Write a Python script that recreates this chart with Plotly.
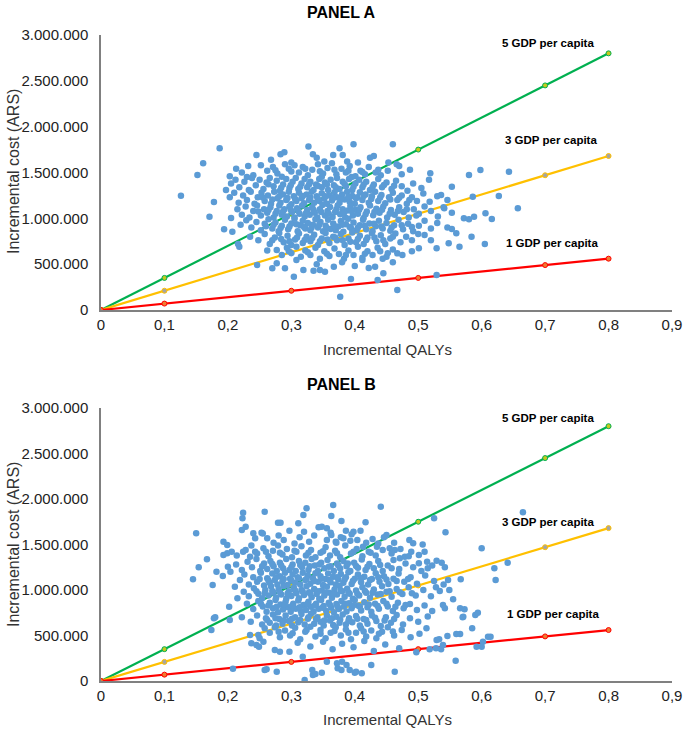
import plotly.graph_objects as go
from plotly.subplots import make_subplots

# ---------------- data ----------------
# threshold lines (QALYs vs. incremental cost in ARS), GDP per capita = 700.000 ARS
line_x = [0, 0.1, 0.3, 0.5, 0.7, 0.8]
gdp1_y = [0, 70000, 210000, 350000, 490000, 560000]
gdp3_y = [0, 210000, 630000, 1050000, 1470000, 1680000]
gdp5_y = [0, 350000, 1050000, 1750000, 2450000, 2800000]
line_labels = ["5 GDP per capita", "3 GDP per capita", "1 GDP per capita"]

x_ticks = [0, 0.1, 0.2, 0.3, 0.4, 0.5, 0.6, 0.7, 0.8, 0.9]
y_ticks = [0, 500000, 1000000, 1500000, 2000000, 2500000, 3000000]

# Monte-Carlo simulations: (incremental QALYs, incremental cost in thousand ARS)
panel_a_points = [
    (0.187,1764),(0.398,1807),(0.460,1807),(0.376,1764),(0.327,1785),(0.245,1690),(0.268,1640),(0.283,1700),
    (0.289,1720),(0.300,1610),(0.334,1700),(0.340,1660),(0.352,1620),(0.366,1690),(0.381,1690),(0.388,1620),
    (0.405,1610),(0.424,1660),(0.430,1680),(0.453,1610),(0.161,1600),(0.152,1473),(0.126,1247),(0.178,1178),
    (0.171,1018),(0.194,880),(0.643,1509),(0.598,1527),(0.580,1473),(0.627,1244),(0.586,1236),(0.657,1109),
    (0.616,993),(0.605,720),(0.606,1055),(0.588,1018),(0.572,1000),(0.584,800),(0.560,836),(0.565,691),
    (0.548,727),(0.553,884),(0.546,1200),(0.553,1345),(0.536,1254),(0.519,1491),(0.529,673),(0.510,818),
    (0.501,673),(0.529,382),(0.467,218),(0.436,327),(0.377,145),(0.394,338),(0.246,491),(0.218,691),
    (0.270,455),(0.304,364),(0.335,429),(0.353,418),(0.367,473),(0.467,618),(0.450,582),(0.432,473),
    (0.422,458),(0.412,545),(0.277,509),(0.290,455),(0.308,545),(0.319,436),(0.345,436),(0.380,520),
    (0.400,480),(0.445,400),(0.460,520),(0.340,500),(0.277,655),
    # 1450-1600
    (0.203,1460),(0.213,1540),(0.222,1500),(0.232,1570),(0.240,1470),(0.252,1580),(0.262,1520),(0.271,1560),
    (0.278,1490),(0.290,1590),(0.296,1540),(0.305,1580),(0.312,1500),(0.318,1560),(0.326,1470),(0.333,1530),
    (0.342,1590),(0.350,1490),(0.357,1550),(0.364,1600),(0.371,1480),(0.379,1540),(0.386,1500),(0.392,1570),
    (0.401,1460),(0.409,1520),(0.416,1480),(0.422,1560),(0.433,1500),(0.441,1470),(0.452,1520),(0.466,1590),
    (0.470,1570),(0.474,1480),(0.487,1530),(0.230,1450),(0.285,1455),(0.348,1455),(0.395,1450),
    (0.275,1525),(0.300,1510),(0.322,1540),(0.345,1515),(0.368,1530),(0.390,1520),(0.412,1505),(0.437,1530),
    # 1300-1450
    (0.197,1309),(0.205,1380),(0.212,1420),(0.218,1340),(0.226,1400),(0.233,1310),(0.238,1440),(0.244,1360),
    (0.250,1420),(0.256,1320),(0.261,1390),(0.266,1440),(0.272,1350),(0.277,1410),(0.282,1300),(0.287,1370),
    (0.292,1430),(0.297,1330),(0.302,1400),(0.307,1440),(0.311,1320),(0.316,1380),(0.321,1430),(0.325,1340),
    (0.330,1400),(0.335,1310),(0.339,1370),(0.344,1430),(0.348,1340),(0.353,1390),(0.358,1310),(0.362,1420),
    (0.367,1360),(0.372,1440),(0.376,1320),(0.381,1400),(0.386,1350),(0.391,1430),(0.396,1310),(0.401,1380),
    (0.407,1420),(0.412,1340),(0.418,1400),(0.424,1310),(0.430,1370),(0.437,1430),(0.443,1340),(0.450,1390),
    (0.458,1320),(0.465,1410),(0.474,1350),(0.483,1300),(0.492,1380),(0.505,1330),(0.517,1420),
    (0.264,1372),(0.284,1335),(0.299,1362),(0.314,1345),(0.328,1372),(0.342,1352),(0.356,1368),(0.370,1338),
    (0.384,1375),(0.398,1345),(0.414,1368),(0.428,1342),(0.446,1365),(0.462,1355),
    # 1150-1300
    (0.203,1230),(0.210,1280),(0.217,1170),(0.224,1250),(0.230,1200),(0.236,1290),(0.242,1160),(0.247,1230),
    (0.253,1280),(0.258,1190),(0.263,1250),(0.268,1160),(0.273,1290),(0.278,1220),(0.283,1170),(0.287,1260),
    (0.292,1200),(0.296,1290),(0.300,1155),(0.304,1240),(0.308,1190),(0.312,1280),(0.316,1220),(0.320,1165),
    (0.324,1260),(0.328,1200),(0.332,1290),(0.336,1170),(0.340,1240),(0.344,1190),(0.348,1275),(0.352,1215),
    (0.356,1160),(0.360,1250),(0.364,1195),(0.368,1285),(0.372,1230),(0.376,1170),(0.380,1260),(0.384,1205),
    (0.388,1290),(0.392,1180),(0.396,1245),(0.400,1160),(0.404,1230),(0.408,1285),(0.412,1200),(0.417,1260),
    (0.422,1170),(0.427,1240),(0.432,1290),(0.437,1190),(0.442,1255),(0.448,1165),(0.454,1230),(0.460,1280),
    (0.467,1200),(0.474,1250),(0.482,1160),(0.490,1230),(0.498,1190),(0.508,1270),(0.518,1180),(0.530,1240),
    (0.255,1228),(0.270,1205),(0.281,1240),(0.294,1222),(0.306,1210),(0.318,1245),(0.330,1228),(0.342,1212),
    (0.354,1240),(0.366,1222),(0.378,1208),(0.390,1235),(0.402,1218),(0.414,1245),(0.426,1210),(0.440,1228),
    (0.456,1205),(0.470,1225),(0.486,1200),
    # 1000-1150
    (0.205,1003),(0.215,1100),(0.222,1040),(0.228,1130),(0.234,1010),(0.240,1080),(0.246,1140),(0.252,1030),
    (0.257,1100),(0.262,1060),(0.267,1120),(0.272,1010),(0.277,1080),(0.281,1140),(0.285,1040),(0.289,1100),
    (0.293,1020),(0.297,1130),(0.301,1070),(0.305,1010),(0.309,1110),(0.313,1050),(0.317,1140),(0.321,1020),
    (0.325,1090),(0.329,1040),(0.333,1120),(0.337,1060),(0.341,1010),(0.345,1100),(0.349,1145),(0.353,1030),
    (0.357,1080),(0.361,1125),(0.365,1015),(0.369,1070),(0.373,1140),(0.377,1045),(0.381,1100),(0.385,1010),
    (0.389,1085),(0.393,1135),(0.397,1030),(0.401,1095),(0.405,1050),(0.409,1120),(0.414,1005),(0.419,1075),
    (0.424,1140),(0.429,1035),(0.434,1105),(0.439,1060),(0.445,1130),(0.451,1010),(0.457,1090),(0.463,1040),
    (0.470,1120),(0.477,1070),(0.485,1010),(0.493,1100),(0.501,1050),(0.510,1130),(0.520,1080),(0.531,1020),
    (0.541,1110),(0.553,1060),(0.540,1120),
    (0.248,1075),(0.264,1090),(0.275,1050),(0.287,1075),(0.299,1095),(0.311,1080),(0.323,1055),(0.335,1090),
    (0.347,1070),(0.359,1050),(0.371,1100),(0.383,1060),(0.395,1080),(0.407,1095),(0.417,1045),(0.431,1070),
    (0.443,1095),(0.455,1050),(0.468,1080),(0.482,1100),(0.497,1030),
    # 850-1000
    (0.207,854),(0.220,930),(0.229,980),(0.237,900),(0.245,960),(0.252,870),(0.258,940),(0.264,990),
    (0.270,890),(0.275,955),(0.280,860),(0.285,920),(0.290,985),(0.295,880),(0.300,945),(0.305,995),
    (0.310,860),(0.314,925),(0.318,975),(0.322,890),(0.326,950),(0.330,870),(0.334,930),(0.338,990),
    (0.342,900),(0.346,960),(0.350,860),(0.354,920),(0.358,985),(0.362,885),(0.366,945),(0.370,870),
    (0.374,910),(0.378,970),(0.382,855),(0.386,935),(0.390,995),(0.394,895),(0.398,955),(0.403,870),
    (0.408,925),(0.413,985),(0.418,880),(0.423,945),(0.428,860),(0.433,915),(0.438,975),(0.444,890),
    (0.450,950),(0.456,865),(0.462,925),(0.469,985),(0.476,880),(0.484,940),(0.492,860),(0.501,920),
    (0.510,975),(0.520,890),(0.530,950),(0.546,900),(0.580,990),
    (0.260,915),(0.272,930),(0.283,895),(0.297,910),(0.308,935),(0.320,905),(0.332,900),(0.344,930),
    (0.356,895),(0.368,915),(0.380,930),(0.392,905),(0.405,900),(0.416,920),(0.430,940),(0.442,910),
    (0.458,900),(0.474,925),(0.490,905),
    # 700-850
    (0.216,720),(0.235,800),(0.248,760),(0.258,830),(0.266,720),(0.274,790),(0.281,840),(0.288,740),
    (0.294,810),(0.300,710),(0.306,770),(0.312,835),(0.318,730),(0.324,800),(0.330,750),(0.336,820),
    (0.342,710),(0.348,780),(0.354,840),(0.360,730),(0.366,800),(0.372,760),(0.378,830),(0.384,710),
    (0.390,780),(0.396,845),(0.402,740),(0.408,810),(0.414,720),(0.420,790),(0.427,840),(0.434,750),
    (0.441,815),(0.448,720),(0.456,780),(0.464,835),(0.472,740),(0.481,800),(0.490,760),(0.500,830),
    (0.520,760),
    (0.270,760),(0.284,775),(0.297,750),(0.309,790),(0.321,765),(0.333,785),(0.345,750),(0.357,770),
    (0.369,790),(0.381,760),(0.393,745),(0.405,775),(0.418,765),(0.431,790),(0.445,760),(0.460,800),
    # 550-700
    (0.262,650),(0.285,600),(0.293,680),(0.300,620),(0.308,690),(0.315,580),(0.322,650),(0.330,600),
    (0.338,680),(0.345,560),(0.352,640),(0.360,590),(0.368,670),(0.375,610),(0.383,560),(0.390,650),
    (0.398,600),(0.405,690),(0.412,570),(0.420,640),(0.428,600),(0.436,680),(0.444,560),(0.452,620),
    (0.460,660),(0.475,600),(0.490,640),
    (0.296,640),(0.326,630),(0.356,615),(0.386,600),(0.416,615),(0.440,640),
]

panel_b_points = [
    # sparse outer simulations
    (0.150,1623),(0.154,1250),(0.145,1118),(0.167,1337),(0.176,1055),(0.180,700),(0.224,1850),(0.223,1788),
    (0.258,1861),(0.222,1660),(0.228,1696),(0.193,1531),(0.199,1495),(0.199,1403),(0.193,1385),(0.206,1421),
    (0.182,1201),(0.192,1154),(0.204,1201),(0.200,1256),(0.219,1110),(0.240,1623),(0.243,1568),(0.253,1630),
    (0.224,1421),(0.235,1366),(0.243,1421),(0.279,1740),(0.311,1733),(0.324,1898),(0.319,1824),(0.348,1696),
    (0.356,1678),(0.366,1934),(0.363,1813),(0.283,1740),(0.441,1916),(0.379,1758),(0.417,1744),(0.665,1854),
    (0.525,1788),(0.543,1634),(0.398,1641),(0.395,1612),(0.450,1605),(0.382,1568),(0.370,1531),(0.363,1605),
    (0.404,1550),(0.413,1476),(0.435,1476),(0.455,1458),(0.463,1440),(0.492,1513),(0.489,1421),(0.501,1385),
    (0.479,1366),(0.471,1348),(0.600,1458),(0.641,1300),(0.620,1238),(0.622,1110),(0.501,1293),(0.514,1311),
    (0.529,1322),(0.537,1300),(0.515,1238),(0.542,1250),(0.567,1118),(0.547,1110),(0.549,1000),(0.528,1030),
    (0.555,898),(0.539,835),(0.542,799),(0.566,799),(0.573,788),(0.571,707),(0.590,725),(0.585,579),
    (0.594,751),(0.570,700),(0.614,487),(0.566,517),(0.546,495),(0.533,458),
    # 1500-1700
    (0.255,1620),(0.262,1570),(0.272,1520),(0.280,1600),(0.288,1550),(0.297,1650),(0.305,1510),(0.313,1580),
    (0.320,1640),(0.328,1530),(0.336,1600),(0.343,1690),(0.356,1550),(0.362,1630),(0.371,1520),(0.378,1580),
    (0.386,1650),(0.393,1540),(0.409,1650),(0.418,1520),(0.428,1560),(0.437,1510),(0.446,1580),(0.462,1520),
    (0.486,1550),(0.507,1500),
    # 1350-1500
    (0.214,1380),(0.228,1440),(0.237,1490),(0.246,1400),(0.256,1460),(0.264,1370),(0.271,1430),(0.279,1490),
    (0.286,1390),(0.293,1450),(0.301,1360),(0.308,1420),(0.316,1480),(0.323,1380),(0.331,1440),(0.338,1360),
    (0.346,1410),(0.354,1470),(0.361,1380),(0.369,1430),(0.377,1360),(0.385,1490),(0.394,1400),(0.403,1450),
    (0.412,1370),(0.422,1420),(0.433,1380),(0.444,1440),(0.458,1400),(0.472,1450),(0.485,1370),(0.510,1420),
    (0.260,1420),(0.282,1410),(0.305,1430),(0.327,1410),(0.350,1425),(0.372,1405),(0.398,1420),(0.425,1410),
    # 1200-1350
    (0.213,1280),(0.222,1220),(0.231,1310),(0.238,1250),(0.245,1340),(0.251,1210),(0.257,1290),(0.262,1230),
    (0.267,1320),(0.272,1260),(0.277,1210),(0.282,1300),(0.287,1240),(0.292,1340),(0.297,1220),(0.302,1280),
    (0.307,1210),(0.312,1320),(0.317,1250),(0.322,1300),(0.327,1220),(0.332,1340),(0.337,1270),(0.342,1210),
    (0.347,1300),(0.352,1240),(0.357,1330),(0.362,1260),(0.367,1210),(0.372,1290),(0.377,1235),(0.382,1320),
    (0.387,1260),(0.393,1210),(0.399,1300),(0.405,1245),(0.411,1335),(0.417,1220),(0.423,1285),(0.430,1240),
    (0.437,1320),(0.444,1210),(0.452,1270),(0.461,1330),(0.470,1230),(0.480,1290),(0.492,1250),(0.505,1210),
    (0.522,1270),
    (0.254,1260),(0.270,1285),(0.284,1270),(0.300,1250),(0.314,1275),(0.329,1260),(0.344,1280),(0.359,1255),
    (0.374,1270),(0.389,1290),(0.402,1265),(0.420,1255),(0.440,1275),(0.458,1240),
    # 1050-1200
    (0.226,1170),(0.233,1060),(0.240,1140),(0.246,1090),(0.252,1190),(0.257,1050),(0.262,1130),(0.266,1080),
    (0.270,1180),(0.274,1110),(0.278,1060),(0.282,1150),(0.286,1095),(0.290,1190),(0.294,1055),(0.298,1125),
    (0.302,1170),(0.306,1080),(0.310,1140),(0.314,1060),(0.318,1190),(0.322,1110),(0.326,1160),(0.330,1070),
    (0.334,1130),(0.338,1185),(0.342,1090),(0.346,1150),(0.350,1055),(0.354,1120),(0.358,1180),(0.362,1085),
    (0.366,1145),(0.370,1060),(0.374,1115),(0.378,1175),(0.382,1080),(0.386,1140),(0.390,1195),(0.395,1065),
    (0.400,1125),(0.405,1170),(0.410,1085),(0.415,1145),(0.421,1060),(0.427,1120),(0.433,1185),(0.439,1090),
    (0.446,1150),(0.453,1065),(0.461,1125),(0.469,1180),(0.478,1090),(0.488,1140),(0.498,1070),(0.511,1160),
    (0.525,1100),(0.540,1060),
    (0.250,1120),(0.264,1105),(0.276,1140),(0.288,1120),(0.300,1105),(0.312,1130),(0.324,1120),(0.336,1100),
    (0.348,1125),(0.360,1110),(0.372,1140),(0.384,1115),(0.397,1100),(0.410,1130),(0.424,1110),(0.437,1140),
    (0.450,1115),(0.466,1100),(0.484,1120),
    # 900-1050
    (0.211,1036),(0.215,909),(0.225,980),(0.233,930),(0.241,1020),(0.248,960),(0.254,910),(0.259,1000),
    (0.264,940),(0.268,1040),(0.272,970),(0.276,915),(0.280,1010),(0.284,950),(0.288,1045),(0.292,905),
    (0.296,985),(0.300,935),(0.304,1025),(0.308,965),(0.312,910),(0.316,1000),(0.320,945),(0.324,1040),
    (0.328,975),(0.332,920),(0.336,1010),(0.340,955),(0.344,905),(0.348,995),(0.352,940),(0.356,1035),
    (0.360,970),(0.364,915),(0.368,1005),(0.372,950),(0.376,1045),(0.380,985),(0.384,925),(0.388,1015),
    (0.392,960),(0.397,905),(0.402,995),(0.407,940),(0.412,1030),(0.418,970),(0.424,915),(0.430,1005),
    (0.436,950),(0.443,1040),(0.450,980),(0.458,925),(0.466,1010),(0.475,955),(0.485,1030),(0.496,940),
    (0.508,1000),(0.520,930),(0.534,990),
    (0.245,985),(0.258,965),(0.270,990),(0.282,975),(0.294,960),(0.306,995),(0.318,980),(0.330,960),
    (0.342,985),(0.354,970),(0.366,955),(0.378,995),(0.390,975),(0.404,960),(0.416,990),(0.428,970),
    (0.441,955),(0.455,985),(0.471,975),(0.490,965),
    # 750-900
    (0.202,817),(0.230,850),(0.240,790),(0.248,880),(0.255,820),(0.261,760),(0.266,860),(0.271,800),
    (0.275,890),(0.279,755),(0.283,840),(0.287,785),(0.291,870),(0.295,810),(0.299,760),(0.303,850),
    (0.307,795),(0.311,885),(0.315,770),(0.319,835),(0.323,780),(0.327,870),(0.331,815),(0.335,760),
    (0.339,850),(0.343,795),(0.347,890),(0.351,825),(0.355,770),(0.359,860),(0.363,805),(0.367,755),
    (0.371,845),(0.375,790),(0.379,880),(0.383,820),(0.387,765),(0.391,855),(0.395,800),(0.400,890),
    (0.405,830),(0.410,775),(0.415,865),(0.420,810),(0.426,760),(0.432,850),(0.438,795),(0.445,880),
    (0.452,820),(0.460,770),(0.468,860),(0.477,800),(0.487,845),(0.498,780),(0.510,830),(0.522,770),
    (0.252,850),(0.264,830),(0.277,815),(0.289,840),(0.301,825),(0.313,810),(0.325,845),(0.337,830),
    (0.349,805),(0.361,835),(0.373,820),(0.385,850),(0.397,830),(0.408,815),(0.422,840),(0.436,825),
    (0.450,850),(0.464,815),(0.480,835),
    # 600-750
    (0.178,689),(0.203,670),(0.222,700),(0.236,650),(0.246,720),(0.254,620),(0.260,690),(0.266,640),
    (0.271,730),(0.276,610),(0.281,680),(0.286,630),(0.291,720),(0.296,660),(0.301,610),(0.306,700),
    (0.311,645),(0.316,735),(0.321,620),(0.326,685),(0.331,740),(0.336,630),(0.341,700),(0.346,650),
    (0.351,610),(0.356,720),(0.361,665),(0.366,615),(0.371,705),(0.376,640),(0.381,730),(0.386,620),
    (0.391,690),(0.396,645),(0.402,715),(0.408,610),(0.414,680),(0.420,630),(0.427,720),(0.434,660),
    (0.441,605),(0.449,700),(0.457,640),(0.466,725),(0.476,620),(0.487,690),(0.500,650),(0.515,710),
    (0.262,670),(0.275,690),(0.288,665),(0.301,685),(0.314,670),(0.327,700),(0.339,680),(0.352,665),
    (0.364,690),(0.377,675),(0.390,660),(0.404,685),(0.418,670),(0.432,695),(0.447,665),(0.462,680),
    # 450-600
    (0.174,560),(0.235,506),(0.248,506),(0.250,469),(0.258,580),(0.266,530),(0.274,590),(0.282,480),
    (0.290,555),(0.298,500),(0.306,585),(0.314,460),(0.322,540),(0.330,595),(0.338,490),(0.346,560),
    (0.354,470),(0.362,530),(0.370,590),(0.378,500),(0.386,565),(0.394,460),(0.402,530),(0.410,580),
    (0.418,490),(0.426,555),(0.434,470),(0.443,540),(0.452,590),(0.462,500),(0.474,560),(0.488,480),
    (0.502,520),(0.513,579),(0.560,517),(0.610,487),
    (0.280,540),(0.302,525),(0.324,560),(0.346,520),(0.368,550),(0.390,530),(0.414,545),(0.438,520),
    (0.460,545),
    # 300-450
    (0.237,414),(0.245,396),(0.249,377),(0.256,432),(0.274,341),(0.282,322),(0.297,322),(0.310,420),
    (0.330,380),(0.350,430),(0.365,350),(0.380,410),(0.398,370),(0.415,440),(0.430,330),(0.448,400),
    (0.470,360),(0.497,315),(0.518,348),(0.528,359),(0.536,348),(0.539,396),(0.529,451),(0.602,432),
    (0.592,377),(0.600,377),
    # below 300
    (0.208,135),(0.258,121),(0.261,128),(0.277,102),(0.318,267),(0.321,11),(0.334,66),(0.338,77),
    (0.348,91),(0.333,121),(0.356,212),(0.373,139),(0.380,212),(0.372,195),(0.379,121),(0.387,176),
    (0.392,121),(0.400,91),(0.402,102),(0.411,85),(0.426,176),(0.463,102),(0.559,223),
]

# ---------------- figure ----------------
a_x = [p[0] for p in panel_a_points]
a_y = [p[1] * 1000 for p in panel_a_points]
b_x = [p[0] for p in panel_b_points]
b_y = [p[1] * 1000 for p in panel_b_points]

W, H = 685, 731
L, R = 101, 13
PW = W - L - R

fig = make_subplots(rows=2, cols=1)

line_styles = [
    (gdp5_y, "#00B050", "#C8C81E"),
    (gdp3_y, "#FFC000", "#A5A5A5"),
    (gdp1_y, "#FF0000", "#ED7D31"),
]

for row, (sx, sy) in [(1, (a_x, a_y)), (2, (b_x, b_y))]:
    for ys, lc, mc in line_styles:
        fig.add_trace(go.Scatter(
            x=line_x, y=ys, mode="lines+markers",
            line=dict(color=lc, width=2.2),
            marker=dict(size=5, color=mc, line=dict(color=lc, width=1)),
            showlegend=False, hoverinfo="skip"), row=row, col=1)
    fig.add_trace(go.Scatter(
        x=sx, y=sy, mode="markers",
        marker=dict(size=6.5, color="#5B9BD5"),
        showlegend=False), row=row, col=1)

axis_common = dict(showgrid=False, zeroline=False, showline=True, automargin=False,
                   linecolor="#808080", linewidth=1.5, ticks="",
                   tickfont=dict(family="Liberation Sans, Arial", size=15, color="#222222"))

def py(pix):
    return 1 - pix / H

def px(pix):
    return (pix - L) / PW

fig.update_layout(
    width=W, height=H,
    margin=dict(l=L, r=R, t=0, b=0),
    plot_bgcolor="white", paper_bgcolor="white",
    separators=",.",
    font=dict(family="Liberation Sans, Arial", color="#222222"),
    xaxis=dict(domain=[0, 1], range=[0, 0.9], tickvals=x_ticks, **axis_common),
    xaxis2=dict(domain=[0, 1], range=[0, 0.9], tickvals=x_ticks, **axis_common),
    yaxis=dict(domain=[py(310), py(35)], range=[0, 3000000], tickvals=y_ticks,
               tickformat=",d", ticklabelstandoff=8, **axis_common),
    yaxis2=dict(domain=[py(681), py(408)], range=[0, 3000000], tickvals=y_ticks,
                tickformat=",d", ticklabelstandoff=8, **axis_common),
)

annotations = []
for title, tpix, qpix, ymid in [("PANEL A", 12, 349, 172), ("PANEL B", 384, 719, 545)]:
    annotations.append(dict(text="<b>%s</b>" % title, x=px(341), y=py(tpix),
                            xref="paper", yref="paper", showarrow=False,
                            font=dict(size=16, color="black"), xanchor="center", yanchor="middle"))
    annotations.append(dict(text="Incremental QALYs", x=px(387), y=py(qpix),
                            xref="paper", yref="paper", showarrow=False,
                            font=dict(size=15, color="#333333"), xanchor="center", yanchor="middle"))
    annotations.append(dict(text="Incremental cost (ARS)", x=px(13), y=py(ymid), textangle=-90,
                            xref="paper", yref="paper", showarrow=False,
                            font=dict(size=16, color="#333333"), xanchor="center", yanchor="middle"))

label_pos = [("x", "y", [(0.704, 2913000), (0.709, 1855000), (0.711, 734000)]),
             ("x2", "y2", [(0.704, 2887000), (0.704, 1751000), (0.713, 736000)])]
for xr, yr, pos in label_pos:
    for lbl, (lx, ly) in zip(line_labels, pos):
        annotations.append(dict(text="<b>%s</b>" % lbl, x=lx, y=ly, xref=xr, yref=yr,
                                showarrow=False, xanchor="center", yanchor="middle",
                                font=dict(family="Liberation Sans, Arial", size=11.5, color="black")))
fig.update_layout(annotations=annotations)

fig.write_html("out.html", config={"displayModeBar": False},
               post_script="document.body.style.margin='0';document.body.style.overflow='hidden';")
